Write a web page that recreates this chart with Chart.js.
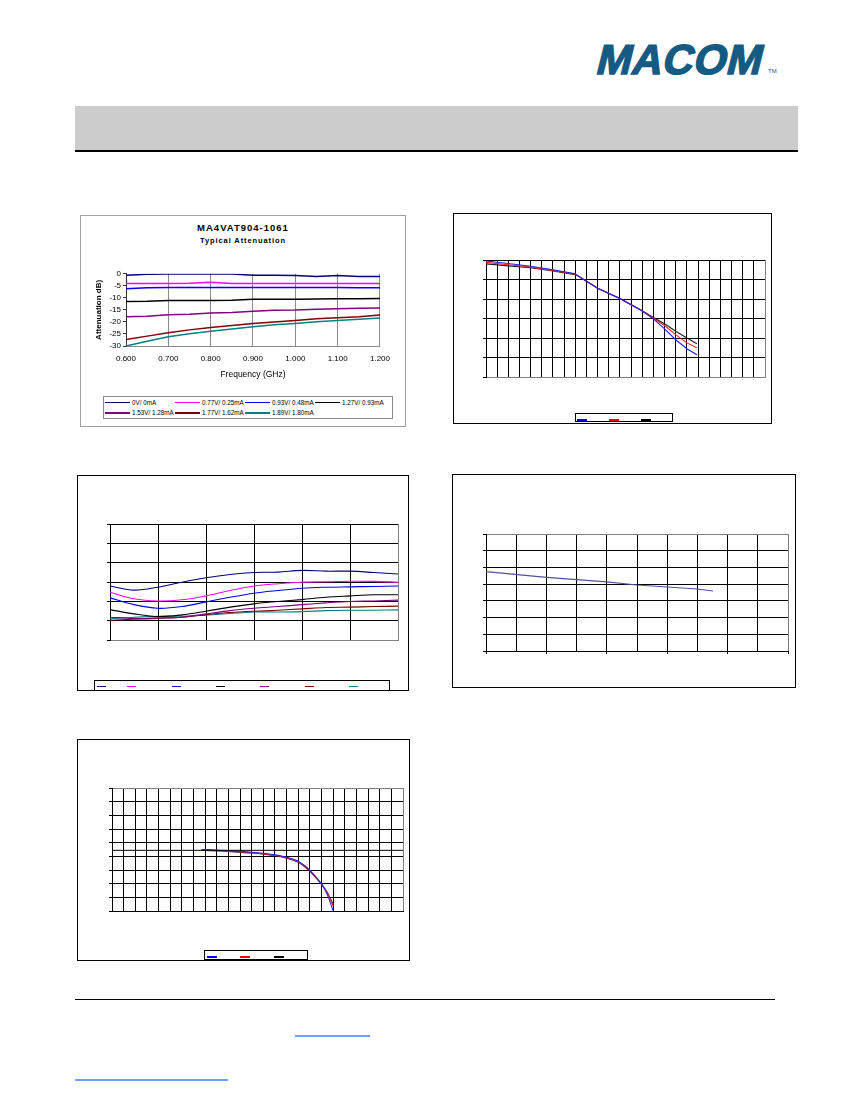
<!DOCTYPE html>
<html><head><meta charset="utf-8">
<script src="https://cdn.jsdelivr.net/npm/chart.js@4.4.0/dist/chart.umd.min.js"></script>
<style>
html,body{margin:0;padding:0;background:#fff;}
body{width:850px;height:1100px;position:relative;overflow:hidden;font-family:"Liberation Sans",Arial,sans-serif;}
.abs{position:absolute;}
.frame{position:absolute;box-sizing:border-box;border:1px solid #000;}
canvas{position:absolute;}
.lg{position:absolute;height:1.5px;}
.lt{position:absolute;font-size:6.3px;line-height:8px;color:#000;white-space:nowrap;}
</style></head><body>

<!-- header -->
<div class="abs" style="left:598px;top:39px;font-size:42px;line-height:42px;font-weight:bold;color:#155a82;transform:skewX(-14deg);letter-spacing:0.5px;-webkit-text-stroke:1.4px #155a82;">MACOM</div>
<div class="abs" style="left:768px;top:68px;font-size:6px;color:#155a82;">TM</div>
<div class="abs" style="left:75px;top:106px;width:723px;height:44px;background:#cccccc;"></div>
<div class="abs" style="left:75px;top:150px;width:723px;height:1.5px;background:#000;"></div>

<!-- frames -->
<div class="frame" style="left:80px;top:215px;width:326px;height:212px;border-color:#a0a0a0;"></div>
<div class="frame" style="left:453px;top:213px;width:319px;height:211px;"></div>
<div class="frame" style="left:77px;top:475px;width:332px;height:216px;"></div>
<div class="frame" style="left:452px;top:474px;width:344px;height:214px;"></div>
<div class="frame" style="left:77px;top:739px;width:333px;height:222px;"></div>

<!-- chart 1 titles -->
<div class="abs" style="left:80px;width:326px;top:222px;text-align:center;font-size:9.5px;line-height:11px;font-weight:bold;letter-spacing:1px;color:#000;">MA4VAT904-1061</div>
<div class="abs" style="left:80px;width:326px;top:236px;text-align:center;font-size:7.5px;line-height:10px;font-weight:bold;letter-spacing:0.9px;color:#000;">Typical Attenuation</div>

<canvas id="c1"></canvas>
<canvas id="c2"></canvas>
<canvas id="c3"></canvas>
<canvas id="c4"></canvas>
<canvas id="c5"></canvas>

<!-- chart 1 legend -->
<div class="frame" style="left:103px;top:396px;width:290px;height:23px;border-color:#8a8a8a;"></div>
<div id="leg1"></div>

<!-- chart 2 legend -->
<div class="frame" style="left:575px;top:413px;width:98px;height:9px;"></div>
<div class="lg" style="left:577px;top:419px;width:10px;background:#0000ff;"></div>
<div class="lg" style="left:609px;top:419px;width:10px;background:#ff0000;"></div>
<div class="lg" style="left:641px;top:419px;width:10px;background:#000;"></div>

<!-- chart 3 legend -->
<div class="frame" style="left:94px;top:680px;width:296px;height:11px;"></div>
<div id="leg3"></div>

<!-- chart 5 legend -->
<div class="frame" style="left:204px;top:950px;width:104px;height:10px;"></div>
<div class="lg" style="left:207px;top:956px;width:10px;background:#0000ff;"></div>
<div class="lg" style="left:240px;top:956px;width:10px;background:#ff0000;"></div>
<div class="lg" style="left:274px;top:956px;width:10px;background:#000;"></div>

<!-- footer -->
<div class="abs" style="left:75px;top:999px;width:700px;height:1px;background:#000;"></div>
<div class="abs" style="left:295px;top:1035px;width:75px;height:1.5px;background:#6fa0ff;"></div>
<div class="abs" style="left:75px;top:1079px;width:153px;height:1.5px;background:#6fa0ff;"></div>

<script>
// ---------- Chart 1 data: MA4VAT904-1061 Typical Attenuation ----------
const freqGHz = [0.60,0.65,0.70,0.75,0.80,0.85,0.90,0.95,1.00,1.05,1.10,1.15,1.20];
const seriesNames = ["0V/ 0mA","0.77V/ 0.25mA","0.93V/ 0.48mA","1.27V/ 0.93mA","1.53V/ 1.28mA","1.77V/ 1.62mA","1.89V/ 1.80mA"];
const seriesColors = ["#000080","#ff00ff","#0000ff","#000000","#800080","#800000","#008080"];
const att0V   = [-0.6,-0.2,-0.1,-0.1,-0.1,-0.1,-0.6,-0.6,-0.7,-1.1,-0.7,-1.1,-1.1];
const att077V = [-4.0,-4.0,-4.0,-3.9,-3.5,-4.0,-4.0,-4.0,-4.0,-4.0,-4.0,-4.0,-4.0];
const att093V = [-6.2,-5.8,-5.7,-5.7,-5.7,-5.7,-5.7,-5.7,-5.7,-5.7,-5.7,-5.8,-5.8];
const att127V = [-11.5,-11.4,-11.1,-11.1,-11.1,-11.0,-10.6,-10.6,-10.6,-10.5,-10.4,-10.4,-10.3];
const att153V = [-17.8,-17.6,-17.0,-16.8,-16.3,-16.1,-15.6,-15.1,-15.0,-14.7,-14.5,-14.3,-14.2];
const att177V = [-27.3,-25.9,-24.5,-23.3,-22.3,-21.5,-20.7,-20.0,-19.4,-18.7,-18.3,-17.8,-17.1];
const att189V = [-30.0,-28.0,-26.2,-24.9,-23.9,-22.9,-22.0,-21.2,-20.6,-19.9,-19.4,-18.9,-18.4];
const yTicks1 = [0,-5,-10,-15,-20,-25,-30];

// ---------- Chart 2 data (unlabelled) ----------
const c2x    = [0,2,4,6,8,8.2,10,12,14,15,16,17,18,18.9];
const c2Blue = [-0.05,-0.18,-0.32,-0.5,-0.7,-0.8,-1.45,-1.97,-2.62,-3.02,-3.53,-4.09,-4.55,-4.86];
const c2Red  = [-0.12,-0.24,-0.36,-0.53,-0.72,-0.8,-1.45,-1.97,-2.62,-3.0,-3.36,-3.83,-4.25,-4.5];
const c2Blk  = [-0.2,-0.3,-0.4,-0.56,-0.75,-0.8,-1.45,-1.97,-2.6,-2.95,-3.27,-3.65,-4.0,-4.3];

// ---------- Chart 3 data (unlabelled) ----------
const c3x = [0,0.5,1,1.5,2,2.5,3,3.5,4,4.5,5,5.5,6];
const c3Navy    = [2.79,2.58,2.73,2.99,3.22,3.39,3.49,3.51,3.60,3.56,3.56,3.49,3.41];
const c3Magenta = [2.47,2.13,2.02,2.08,2.28,2.56,2.79,2.91,2.99,3.01,3.04,3.03,2.99];
const c3Blue    = [2.18,1.83,1.64,1.73,1.97,2.21,2.42,2.56,2.68,2.73,2.75,2.77,2.79];
const c3Black   = [1.57,1.35,1.21,1.30,1.49,1.70,1.87,1.99,2.09,2.21,2.28,2.34,2.34];
const c3Purple  = [1.18,1.12,1.14,1.18,1.35,1.52,1.64,1.73,1.83,1.92,1.99,2.02,2.06];
const c3DarkRed = [1.02,1.07,1.12,1.18,1.31,1.42,1.49,1.54,1.61,1.68,1.70,1.73,1.75];
const c3Teal    = [1.09,1.18,1.23,1.23,1.28,1.37,1.45,1.45,1.47,1.52,1.54,1.54,1.56];

// ---------- Chart 4 data (unlabelled) ----------
const c4x = [0,2,4,5,6,7,7.52];
const c4y = [4.75,4.41,4.13,3.95,3.83,3.71,3.59];

// ---------- Chart 5 data (unlabelled) ----------
const c5x    = [7.7,8.5,10,12,14,15,16,17,18,18.5,19];
const c5Blue = [4.49,4.48,4.42,4.30,4.12,3.93,3.64,2.98,1.98,1.20,0.0];
const c5Red  = [4.47,4.45,4.38,4.27,4.08,3.90,3.60,2.95,1.95,1.30,0.35];
const c5Blk  = [4.44,4.42,4.35,4.24,4.05,3.87,3.57,2.90,1.95,1.35,0.50];
const c5RefX = [0,25];
const c5RefY = [4.44,4.44];

const FONT = "'Liberation Sans', Arial, sans-serif";
Chart.defaults.font.family = FONT;

function pts(xs, ys){ return xs.map((x,i)=>({x:x, y:ys[i]})); }
function ds(xs, ys, color, w, tension){
  return {data:pts(xs,ys), borderColor:color, borderWidth:w||1.2, pointRadius:0, fill:false, tension:tension||0};
}

function mk(id, box, o){
  const c = document.getElementById(id);
  const L = box.l - o.lw, T = box.t - o.pt;
  const W = Math.round((box.r - box.l) + o.lw + o.pr);
  const H = Math.round((box.b - box.t) + o.pt + o.bh);
  c.style.left = L + 'px'; c.style.top = T + 'px';
  c.style.width = W + 'px'; c.style.height = H + 'px';
  c.width = W; c.height = H;
  o.xs.afterFit = s => { s.height = o.bh; };
  o.ys.afterFit = s => { s.width = o.lw; };
  return new Chart(c, {
    type:'line',
    data:{datasets:o.datasets},
    options:{
      responsive:false, animation:false,
      layout:{padding:{top:o.pt, right:o.pr, left:0, bottom:0}},
      plugins:{legend:{display:false}, tooltip:{enabled:false}},
      scales:{x:o.xs, y:o.ys}
    }
  });
}

// ---- Chart 1 ----
const c1Series = [att0V, att077V, att093V, att127V, att153V, att177V, att189V];
mk('c1', {l:126, t:273, r:386, b:346}, {
  lw:36, pt:6, pr:12, bh:34,
  datasets: c1Series.map((s,i)=>ds(freqGHz, s, seriesColors[i], 1.5)),
  xs:{type:'linear', min:0.6, max:1.2,
      ticks:{stepSize:0.1, autoSkip:false, maxRotation:0, padding:8, color:'#000', font:{size:8}, callback:v=>Number(v).toFixed(3)},
      grid:{color:'#8a8a8a', drawTicks:false, lineWidth:1},
      border:{color:'#8a8a8a'},
      title:{display:true, text:'Frequency (GHz)', color:'#000', font:{size:8.5}, padding:{top:0, bottom:0.6}}},
  ys:{type:'linear', min:-30, max:0,
      afterBuildTicks: s => { s.ticks = yTicks1.map(v=>({value:v})); },
      ticks:{autoSkip:false, padding:2, color:'#000', font:{size:8}},
      grid:{color:'transparent', tickColor:'#333', tickLength:3},
      border:{color:'#333'},
      title:{display:true, text:'Attenuation dB)', color:'#000', font:{size:8, weight:'bold'}, padding:{top:3.5, bottom:0}}}
});

// chart 1 legend (HTML)
(function(){
  const el = document.getElementById('leg1');
  const pos = [[105,402.5],[175,402.5],[245,402.5],[315,402.5],[105,413],[175,413],[245,413]];
  let h = '';
  seriesNames.forEach((n,i)=>{
    const [x,y] = pos[i];
    h += '<div class="lg" style="left:'+x+'px;top:'+(y-0.75)+'px;width:25px;background:'+seriesColors[i]+';"></div>';
    h += '<div class="lt" style="left:'+(x+27)+'px;top:'+(y-4)+'px;">'+n+'</div>';
  });
  el.innerHTML = h;
})();

// generic grid helpers
function gridX(max, edgeColor){ return {color: c => (c.tick && c.tick.value === max) ? edgeColor : '#000', drawTicks:false, lineWidth:1}; }

// ---- Chart 2 ----
mk('c2', {l:486, t:260, r:765, b:377}, {
  lw:4, pt:1, pr:2, bh:2,
  datasets:[ds(c2x,c2Blue,'#2020ff',1.1), ds(c2x,c2Red,'#ff2020',1.1), ds(c2x,c2Blk,'#222',1.1)],
  xs:{type:'linear', min:0, max:25, ticks:{display:false, stepSize:1}, grid:gridX(25,'#808080'), border:{color:'#808080'}},
  ys:{type:'linear', min:-6, max:0, ticks:{display:false, stepSize:1}, grid:{color:'#000', tickColor:'#000', tickLength:3}, border:{color:'#000'}}
});

// ---- Chart 3 ----
const c3Series = [c3Navy,c3Magenta,c3Blue,c3Black,c3Purple,c3DarkRed,c3Teal];
mk('c3', {l:110, t:524, r:398, b:640}, {
  lw:4, pt:1, pr:2, bh:2,
  datasets: c3Series.map((s,i)=>ds(c3x, s, seriesColors[i], 1.1, 0.35)),
  xs:{type:'linear', min:0, max:6, ticks:{display:false, stepSize:1}, grid:gridX(6,'#808080'), border:{color:'#808080'}},
  ys:{type:'linear', min:0, max:6, ticks:{display:false, stepSize:1}, grid:{color:'#000', tickColor:'#000', tickLength:3}, border:{color:'#000'}}
});
(function(){
  const el = document.getElementById('leg3');
  const xs = [97,127,172,216,260,305,349];
  el.innerHTML = xs.map((x,i)=>'<div class="lg" style="left:'+x+'px;top:685.5px;width:9px;background:'+seriesColors[i]+';"></div>').join('');
})();

// ---- Chart 4 ----
mk('c4', {l:486, t:534, r:788, b:651}, {
  lw:4, pt:1, pr:2, bh:3,
  datasets:[ds(c4x,c4y,'#5050a0',1.2)],
  xs:{type:'linear', min:0, max:10, ticks:{display:false, stepSize:1},
      grid:{color: c => (c.tick && c.tick.value === 10) ? '#808080' : '#000', tickColor: c => (c.tick && c.tick.value % 2 === 0) ? '#000' : 'rgba(0,0,0,0)', tickLength:3, lineWidth:1},
      border:{color:'#000'}},
  ys:{type:'linear', min:0, max:7, ticks:{display:false, stepSize:1},
      grid:{color: c => (c.tick && c.tick.value === 7) ? '#808080' : '#000', tickColor:'#000', tickLength:3}, border:{color:'#000'}}
});

// ---- Chart 5 ----
mk('c5', {l:112, t:788, r:403, b:911}, {
  lw:4, pt:1, pr:3, bh:2,
  datasets:[ds(c5RefX,c5RefY,'#000',1), ds(c5x,c5Blue,'#2020ff',1.1,0.3), ds(c5x,c5Red,'#ff2020',1.1,0.3), ds(c5x,c5Blk,'#222',1.1,0.3)],
  xs:{type:'linear', min:0, max:25, ticks:{display:false, stepSize:1}, grid:gridX(25,'#808080'), border:{color:'#000'}},
  ys:{type:'linear', min:0, max:9, ticks:{display:false, stepSize:1},
      grid:{color: c => (c.tick && c.tick.value === 9) ? '#808080' : '#000', tickColor:'#000', tickLength:3}, border:{color:'#000'}}
});
</script>
</body></html>
